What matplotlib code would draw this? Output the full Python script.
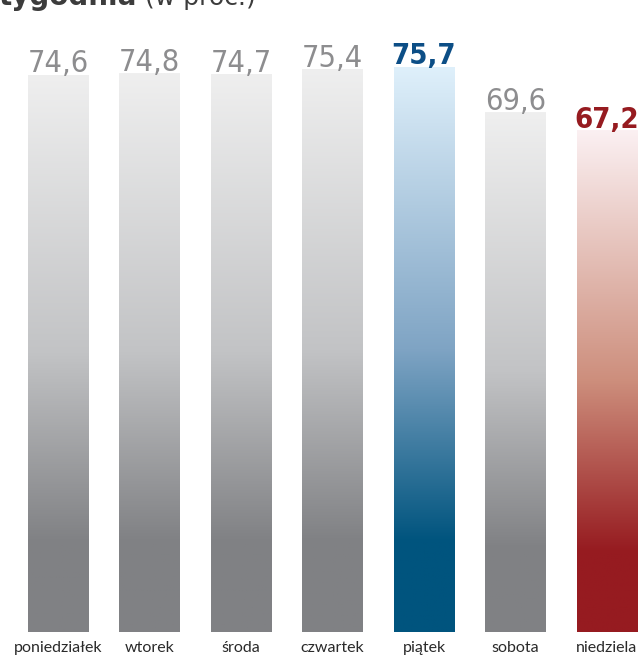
import numpy as np
import matplotlib
matplotlib.use("Agg")
import matplotlib.pyplot as plt
from matplotlib.colors import LinearSegmentedColormap

days = ["poniedziałek", "wtorek", "środa", "czwartek", "piątek", "sobota", "niedziela"]
values = [74.6, 74.8, 74.7, 75.4, 75.7, 69.6, 67.2]
value_labels = ["74,6", "74,8", "74,7", "75,4", "75,7", "69,6", "67,2"]
highlight = ["gray", "gray", "gray", "gray", "blue", "gray", "red"]

W, H = 638, 657
fig = plt.figure(figsize=(W/100, H/100), dpi=100)
ax = fig.add_axes([0, 25/H, 1, 1 - 25/H])
XL = (-0.634, 6.339)
ax.set_xlim(*XL)
ax.set_ylim(0, 632/7.47)
ax.axis("off")

schemes = {
    "gray": (["#efefef", "#c2c3c5", "#808184", "#808184"], "#8d8d8f", "normal", 22),
    "blue": (["#dff0fb", "#7fa4c4", "#00547e", "#00547e"], "#0c4e86", "bold", 21),
    "red": (["#fbf0f2", "#cd8e7c", "#961b20", "#961b20"], "#961b20", "bold", 21),
}
grad = np.linspace(0, 1, 256).reshape(-1, 1)

bars = ax.bar(range(len(days)), values, width=0.656, color="none")
for i, (b, v, lab, h) in enumerate(zip(bars, values, value_labels, highlight)):
    cols, tc, fw, fs = schemes[h]
    cmap = LinearSegmentedColormap.from_list(h, list(zip([0, 0.5, 0.84, 1.0], cols)))
    x0, w = b.get_x(), b.get_width()
    im = ax.imshow(grad, cmap=cmap, aspect="auto", origin="upper",
                   extent=[x0, x0 + w, 0, v], zorder=1)
    im.set_clip_path(b)
    ax.text(x0 + w/2, v + 0.3, lab, ha="center", va="baseline",
            fontsize=fs, color=tc, fontweight=fw, family="DejaVu Sans",
            fontstretch="condensed")
    fig.text((x0 + w/2 - XL[0])/(XL[1] - XL[0]), 9/H, days[i], ha="center",
             va="center", fontsize=11.5, color="#2a2a2a", family="Lato")

ax.set_xlim(*XL)
ax.set_ylim(0, 632/7.47)

fig.text(-0.002, 1 - 5/H, "tygodnia", fontsize=20, fontweight="bold", color="#3c3c3c",
         va="baseline", ha="left")
fig.text(0.228, 1 - 5/H, "(w proc.)", fontsize=18, color="#3c3c3c", va="baseline", ha="left")

fig.savefig("out.png", dpi=100)
